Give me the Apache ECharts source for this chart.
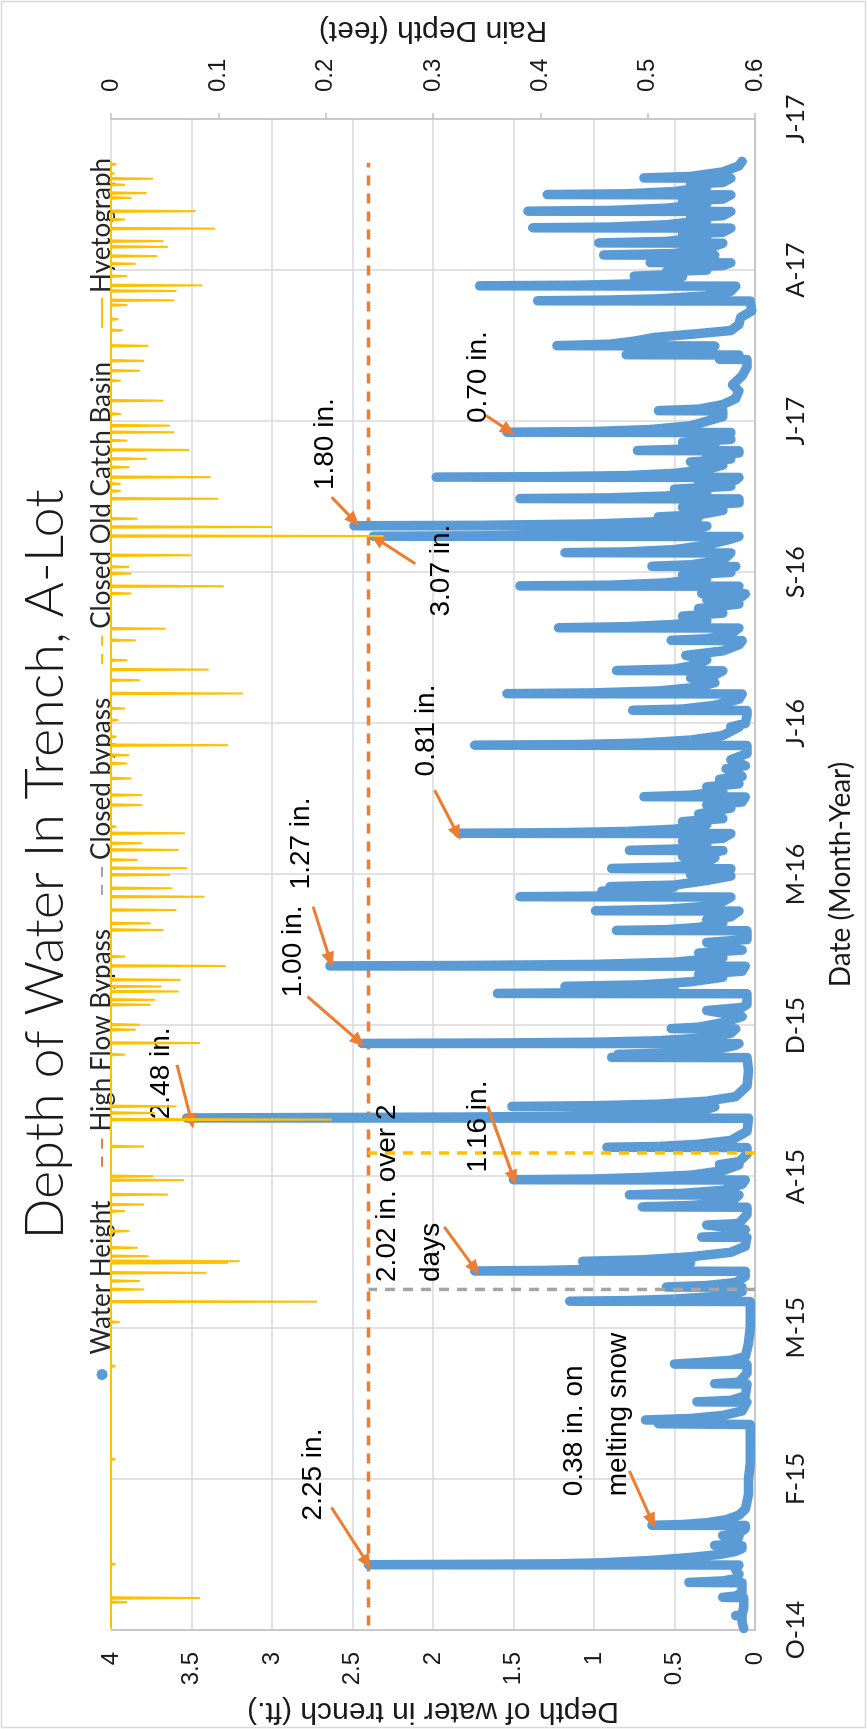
<!DOCTYPE html>
<html><head><meta charset="utf-8">
<script src="https://cdn.jsdelivr.net/npm/echarts@6/dist/echarts.min.js"></script>
<style>
html,body{margin:0;padding:0;background:#fff;overflow:hidden;}
#wrap{position:absolute;left:0;top:0;width:867px;height:1729px;overflow:hidden;background:#fff;}
#chart{position:absolute;left:0;top:0;width:1729px;height:867px;transform-origin:0 0;transform:translateY(1729px) rotate(-90deg);}
</style></head><body>
<div id="wrap"><div id="chart"></div></div>
<script>
// Day 0 = 28 Oct 2014; axis ticks every 100 days
const dayLabels = ['O-14','F-15','M-15','A-15','D-15','M-16','J-16','S-16','J-17','A-17','J-17'];

// [day, depth ft]
const waterHeight = [
[1,0.07],[5,0.08],[9.3,0.08],[9.5,0.12],[10,0.08],[15,0.07],[21.4,0.07],[21.6,0.2],[22.5,0.12],[25,0.08],[31.3,0.08],[31.5,0.41],[32.5,0.2],[34,0.12],[37,0.1],[40,0.12],[43,0.1],
[43.2,2.40],[43.5,1.7],[43.8,1.23],[44.5,0.95],[46,0.65],[48,0.4],[50,0.22],[52,0.12],[54,0.08],
[55.7,0.08],[56,0.25],[57,0.12],[62,0.1],[62.5,0.2],[64,0.1],[67,0.06],
[69.2,0.06],[69.3,0.64],[69.8,0.45],[71,0.3],[73,0.18],[76,0.1],[80,0.06],
[90,0.04],[100,0.04],[110,0.03],[120,0.03],[130,0.03],[136,0.03],
[136.5,0.6],[137,0.3],[138.8,0.3],[139,0.68],[140,0.4],[142,0.2],[145,0.08],[150.8,0.05],[151,0.36],[152,0.15],[155,0.06],
[162.8,0.05],[163,0.25],[164,0.1],[170,0.05],[175.8,0.05],[176,0.5],[177,0.35],[178.5,0.15],[181,0.06],
[190,0.04],[200,0.03],[210,0.03],[217.4,0.03],[217.6,1.15],[218,0.8],[219,0.5],[221,0.2],[224,0.08],
[226.8,0.08],[227,0.55],[228,0.3],[230,0.12],[234,0.06],
[237.4,0.06],[237.6,1.74],[238,1.3],[239,0.9],[241,0.6],[243,0.4],[243.8,0.4],[244,1.07],[245,0.7],[247,0.4],[250,0.15],[254,0.06],
[259.8,0.05],[260,0.33],[261,0.12],[265,0.06],[268,0.3],[269,0.1],[275,0.05],
[279.8,0.05],[280,0.7],[281,0.4],[283,0.15],[287.8,0.1],[288,0.78],[289,0.45],[291,0.2],[295,0.08],
[297.8,0.06],[298,1.50],[298.5,1.0],[299.5,0.7],[301,0.4],[304,0.2],[307.8,0.1],[308,0.22],[310,0.1],[315,0.05],
[319.3,0.05],[319.5,0.92],[320,0.6],[321.5,0.35],[324,0.15],[330,0.05],
[338.7,0.04],[338.9,3.53],[339.5,1.8],[340,1.2],[341,0.7],[343,0.35],[346.3,0.25],[346.5,1.51],[347,1.0],[348,0.6],[350,0.3],[353,0.12],[360,0.05],[370,0.04],
[378.8,0.05],[379,0.89],[379.5,0.6],[381,0.85],[382,0.5],[384,0.25],[387,0.12],
[388.1,0.1],[388.2,2.44],[388.5,1.6],[389,1.0],[390,0.6],[392,0.3],[395,0.15],[397.8,0.12],[398,0.52],[399,0.35],[402,0.2],[406,0.08],[410,0.3],[412,0.08],[414,0.05],
[421.1,0.05],[421.3,1.60],[421.8,1.0],[423,0.6],[425.8,0.5],[426,1.18],[427,0.7],[429,0.4],[432,0.2],[434,0.35],[436,0.08],
[439.3,0.06],[439.5,2.64],[439.8,1.8],[440.5,1.0],[442,0.5],[445,0.2],[448,0.35],[450,0.08],[455,0.3],[457,0.05],
[462.8,0.05],[463,0.86],[463.5,0.55],[465,0.35],[468,0.2],[470,0.3],[472,0.15],[475.8,0.1],[476,0.99],[477,0.55],[479,0.3],[482,0.2],
[485.1,0.15],[485.3,1.46],[485.8,0.9],[487,0.6],[489,0.95],[490,0.6],[491.8,0.5],[492,0.9],[493,0.5],[496,0.3],[499,0.15],[500,0.4],[502,0.25],
[503.8,0.15],[504,0.89],[505,0.5],[508,0.3],[511,0.25],[512,0.45],[514,0.3],[515.8,0.2],[516,0.78],[517,0.45],[520,0.3],[522,0.45],[524,0.2],
[527.1,0.15],[527.3,1.84],[527.7,1.2],[528.5,0.8],[530,0.5],[533,0.3],[535,0.45],[537,0.2],[540,0.35],[544,0.15],[546,0.3],[548,0.08],
[551.3,0.06],[551.5,0.69],[552.5,0.4],[555,0.2],[558,0.3],[560,0.1],[563,0.22],[565,0.08],[570,0.18],[572,0.06],[576,0.15],[580,0.05],
[585.4,0.05],[585.6,1.74],[586,1.1],[587,0.7],[589,0.4],[592,0.2],[597.5,0.1],[597.7,0.15],[600,0.06],[605,0.05],
[608.5,0.05],[608.7,0.76],[609.5,0.45],[612,0.25],[616,0.1],
[619.5,0.08],[619.7,1.54],[620.2,1.0],[621.5,0.6],[624,0.35],[627,0.25],[630,0.4],[632,0.25],[634.8,0.2],[635,0.86],[636,0.5],[639,0.35],[642,0.3],[645,0.43],[648,0.2],[652,0.1],
[654.8,0.08],[655,0.52],[656,0.3],[659,0.15],[663.1,0.1],[663.3,1.22],[664,0.8],[665.5,0.5],[668,0.3],[671,0.45],[673,0.2],[676,0.35],[679,0.1],[682,0.3],[684,0.08],
[685.8,0.06],[686,0.33],[687,0.15],[690.8,0.1],[691,1.46],[691.5,0.9],[693,0.55],[696,0.3],[698,0.45],[700,0.15],[702,0.35],
[703.8,0.12],[704,0.64],[705,0.4],[708,0.2],[712.8,0.15],[713,1.18],[713.5,0.8],[715,0.5],[718,0.3],[722,0.15],
[723.7,0.1],[723.9,2.37],[724.2,1.6],[725,1.0],[726.5,0.6],[729,0.35],[730.6,0.3],[730.8,2.49],[731.1,1.7],[732,1.0],[733.5,0.6],[736.5,0.35],[736.7,0.6],[738,0.35],[741,0.2],[743,0.45],[745,0.25],[746,0.1],
[748.6,0.1],[748.8,1.46],[749.3,0.9],[750.5,0.55],[753,0.3],[755,0.5],[757,0.15],[759,0.35],[761,0.12],
[762.8,0.1],[763,1.98],[763.3,1.3],[764,0.8],[765.5,0.5],[768,0.3],[771,0.2],[773,0.4],[775,0.15],[777,0.3],[779,0.1],
[780.4,0.1],[780.6,0.73],[781.5,0.45],[784,0.25],[786,0.45],[788,0.15],[790,0.3],
[792.5,0.15],[792.7,1.54],[793.2,1.0],[794.5,0.65],[797,0.4],[800,0.3],[803,0.2],[806.8,0.2],[807,0.6],[808,0.35],[811,0.2],[815,0.12],[820,0.1],[824,0.14],[830,0.08],[836,0.05],
[840.8,0.05],[841,0.22],[842,0.1],[843.8,0.1],[844,0.8],[845,0.45],[847,0.3],[849.8,0.25],[850,1.23],[851,0.9],[853,0.75],[855.5,0.62],[858,0.35],[860,0.15],[864,0.1],[868.6,0.09],[873,0.02],
[879.5,0.03],[879.7,1.35],[880.2,0.9],[881,0.6],[883,0.3],[886,0.15],
[889.4,0.12],[889.6,1.71],[890,1.1],[891,0.7],[893,0.5],[895.8,0.45],[896,0.75],[897,0.5],[899,0.55],[900,0.3],[902,0.45],[903,0.2],
[904.8,0.15],[905,0.65],[906,0.35],[909.8,0.25],[910,0.94],[911,0.5],[914,0.3],[917.8,0.2],[918,0.97],[919,0.55],[922,0.3],[924,0.45],[925,0.2],
[927.8,0.15],[928,1.38],[928.5,0.9],[930,0.55],[933,0.3],[935,0.4],[936,0.2],
[938.8,0.15],[939,1.41],[939.5,0.9],[941,0.55],[944,0.3],[946,0.45],[947,0.2],
[949.8,0.15],[950,1.29],[950.5,0.8],[952,0.5],[955,0.3],[957,0.4],[958,0.2],
[960.8,0.15],[961,0.69],[962,0.4],[965,0.2],[969,0.1],[972,0.08]
];

// [day, rain ft]
const rainEvents = [
[18.4,0.015],[21.2,0.083],[43.6,0.004],[113,0.004],[174.7,0.004],[203.8,0.008],[217.3,0.192],[225.4,0.031],[231,0.027],[236.4,0.089],[243,0.109],[244.1,0.12],[247.4,0.035],[253,0.025],[264,0.017],[277.2,0.013],[281.6,0.031],[288.2,0.053],[297.7,0.068],[300.3,0.039],[320,0.031],[337.8,0.206],[342.2,0.041],[346.6,0.061],[380.8,0.013],[388.5,0.083],[397.3,0.023],[400.6,0.027],[413.8,0.037],[417.1,0.041],[422.6,0.063],[425.9,0.047],[430.3,0.065],[439.5,0.107],[445.7,0.013],[463.3,0.049],[467.7,0.037],[476.5,0.061],[485.3,0.087],[490.9,0.057],[499.8,0.055],[504.2,0.071],[509.7,0.025],[516.3,0.063],[520.7,0.029],[527.3,0.069],[531.7,0.005],[546,0.029],[552.6,0.029],[563.6,0.019],[573.5,0.015],[579,0.017],[585.6,0.109],[591.2,0.005],[602.2,0.007],[609.9,0.013],[619.8,0.123],[628.6,0.027],[635.6,0.091],[641.8,0.015],[655,0.023],[662.7,0.051],[686,0.019],[690.8,0.105],[699.2,0.019],[703.6,0.017],[711.3,0.075],[724,0.254],[730,0.15],[735.5,0.025],[748.7,0.1],[753.8,0.009],[758.6,0.009],[763,0.093],[769.6,0.017],[775.1,0.033],[781,0.073],[787.2,0.015],[792.7,0.059],[797.1,0.055],[804.8,0.009],[813.6,0.049],[826.8,0.009],[833.4,0.027],[840,0.031],[849.9,0.035],[860.2,0.011],[867.5,0.007],[876.9,0.015],[880,0.059],[886.2,0.061],[889.9,0.085],[896,0.015],[904.2,0.023],[909.3,0.043],[915.4,0.053],[919.2,0.049],[927.5,0.097],[933.5,0.013],[939,0.079],[947.8,0.019],[951,0.033],[956.5,0.013],[960.5,0.039],[964,0.003],[970,0.005]
];
const rainStart = 1, rainEnd = 972;

const highFlowBypass = [[3,2.4],[971,2.4]];
const closedBypass = [[225.4,0],[225.4,2.4]];
const closedOldCatchBasin = [[315.7,0],[315.7,2.4]];

// annotation text: start [day, depth]; arrow from -> to
const noteTexts = ['2.25 in.','0.38 in. on\nmelting snow','2.02 in. over 2\ndays','1.16 in.','2.48 in.','1.00 in.','1.27 in.','0.81 in.','3.07 in.','1.80 in.','0.70 in.'];
const noteAt = [[72.2,2.745],[88.2,0.988],[230,2.145],[302.5,1.72],[337.7,3.69],[418.4,2.87],[489.8,2.82],[564.6,2.04],[670.4,1.95],[754.1,2.67],[798.4,1.72]];
const arrowFrom = [[81.1,2.63],[105.3,0.78],[266.8,1.93],[346.5,1.66],[374,3.59],[419.2,2.78],[478.7,2.745],[555.8,1.99],[705.7,2.11],[749.7,2.63],[803.7,1.67]];
const arrowTo = [[44.7,2.41],[72.2,0.64],[239.1,1.74],[299.2,1.50],[336.6,3.50],[389.6,2.46],[443.5,2.64],[527.2,1.85],[722.2,2.35],[734.3,2.49],[793.8,1.53]];

const rainLine = [[rainStart,0]];
rainEvents.slice().sort((a,b)=>a[0]-b[0]).forEach(([d,r])=>{rainLine.push([d-0.5,0],[d,r],[d+0.5,0]);});
rainLine.push([rainEnd,0]);

const chart = echarts.init(document.getElementById('chart'), null, {renderer:'canvas', width:1729, height:867});
const txt = '#1a1a1a';
const gridCol = '#D9D9D9';
const axisCol = '#BFBFBF';
const noSym = {opacity:0};
chart.setOption({
  animation:false,
  backgroundColor:'#fff',
  title:{text:'Depth of Water In Trench, A-Lot', left:'center', top:14, textStyle:{fontFamily:'Lato', fontWeight:300, fontSize:54, color:txt}},
  legend:{left:344, top:84, itemWidth:30, itemHeight:11, itemGap:33,
    textStyle:{fontFamily:'Lato', fontSize:26, color:'#262626'},
    data:[{name:'Water Height', icon:'circle'},
          {name:'High Flow Bypass', itemStyle:noSym},
          {name:'Closed bypass', itemStyle:noSym},
          {name:'Closed Old Catch Basin', itemStyle:noSym},
          {name:'Hyetograph', itemStyle:noSym}]},
  grid:{left:99, right:119, top:111, bottom:112, outerBoundsMode:'none'},
  graphic:[{type:'rect', shape:{x:1.5,y:1.5,width:1726,height:864}, style:{fill:null, stroke:'#D9D9D9', lineWidth:1.5}, silent:true}],
  xAxis:{type:'value', min:0, max:1000, interval:100,
    axisLine:{show:true, lineStyle:{color:axisCol, width:1.5}}, axisTick:{show:false},
    splitLine:{show:true, lineStyle:{color:gridCol, width:1.5}},
    axisLabel:{formatter:v=>dayLabels[Math.round(v/100)], fontFamily:'Lato', fontSize:25, color:txt, margin:28},
    name:'Date (Month-Year)', nameLocation:'middle', nameGap:72, nameTextStyle:{fontFamily:'Lato', fontSize:28, color:txt}},
  yAxis:[
    {type:'value', min:0, max:4, interval:0.5, position:'left',
     axisLine:{show:true, lineStyle:{color:axisCol, width:1.5}}, axisTick:{show:false},
     splitLine:{show:true, lineStyle:{color:gridCol, width:1.5}},
     axisLabel:{fontFamily:'Liberation Sans', fontSize:24, color:txt, margin:22},
     name:'Depth of water in trench (ft.)', nameLocation:'middle', nameRotate:90, nameGap:62,
     nameTextStyle:{fontFamily:'Liberation Sans', fontSize:30, color:txt}},
    {type:'value', min:0, max:0.6, interval:0.1, position:'right', inverse:true,
     axisLine:{show:true, lineStyle:{color:axisCol, width:1.5}}, axisTick:{show:true, length:6, lineStyle:{color:axisCol, width:1.5}},
     splitLine:{show:false},
     axisLabel:{fontFamily:'Liberation Sans', fontSize:24, color:txt, margin:27},
     name:'Rain Depth (feet)', nameLocation:'middle', nameRotate:90, nameGap:74,
     nameTextStyle:{fontFamily:'Liberation Sans', fontSize:30, color:txt}}
  ],
  series:[
    {name:'High Flow Bypass', type:'line', data:highFlowBypass, symbol:'none', z:2,
     lineStyle:{color:'#ED7D31', width:3.5, type:[10,8]}, itemStyle:{color:'#ED7D31'}},
    {name:'Water Height', type:'line', data:waterHeight, symbol:'none', z:3,
     lineStyle:{color:'#5B9BD5', width:9.5, cap:'round', join:'round'}, itemStyle:{color:'#5B9BD5'}},
    {name:'Closed bypass', type:'line', data:closedBypass, symbol:'none', z:4,
     lineStyle:{color:'#A5A5A5', width:3.5, type:[10,8]}, itemStyle:{color:'#A5A5A5'}},
    {name:'Closed Old Catch Basin', type:'line', data:closedOldCatchBasin, symbol:'none', z:4,
     lineStyle:{color:'#FFC000', width:3.5, type:[10,8]}, itemStyle:{color:'#FFC000'}},
    {name:'Hyetograph', type:'line', yAxisIndex:1, data:rainLine, symbol:'none', z:5,
     lineStyle:{color:'#FFC000', width:2}, itemStyle:{color:'#FFC000'}},
    {name:'notes', type:'scatter', data:[[500,2]], symbolSize:0, z:10, silent:true,
     markLine:{silent:true, animation:false, symbol:['none','triangle'], symbolSize:[13,15],
       label:{show:false}, emphasis:{disabled:true},
       lineStyle:{color:'#ED7D31', width:3, type:'solid'},
       itemStyle:{color:'#ED7D31'},
       data:arrowFrom.map((f,i)=>[{coord:f},{coord:arrowTo[i]}])},
     markPoint:{silent:true, animation:false, symbol:'rect', symbolSize:1, itemStyle:{color:'rgba(0,0,0,0)'},
       data:noteAt.map((c,i)=>({coord:c, value:0,
         label:{show:true, position:'right', distance:0, formatter:noteTexts[i], color:'#000',
                fontFamily:'Liberation Sans', fontSize:28, lineHeight:44, align:'left'}}))}
    }
  ]
});
</script>
</body></html>
